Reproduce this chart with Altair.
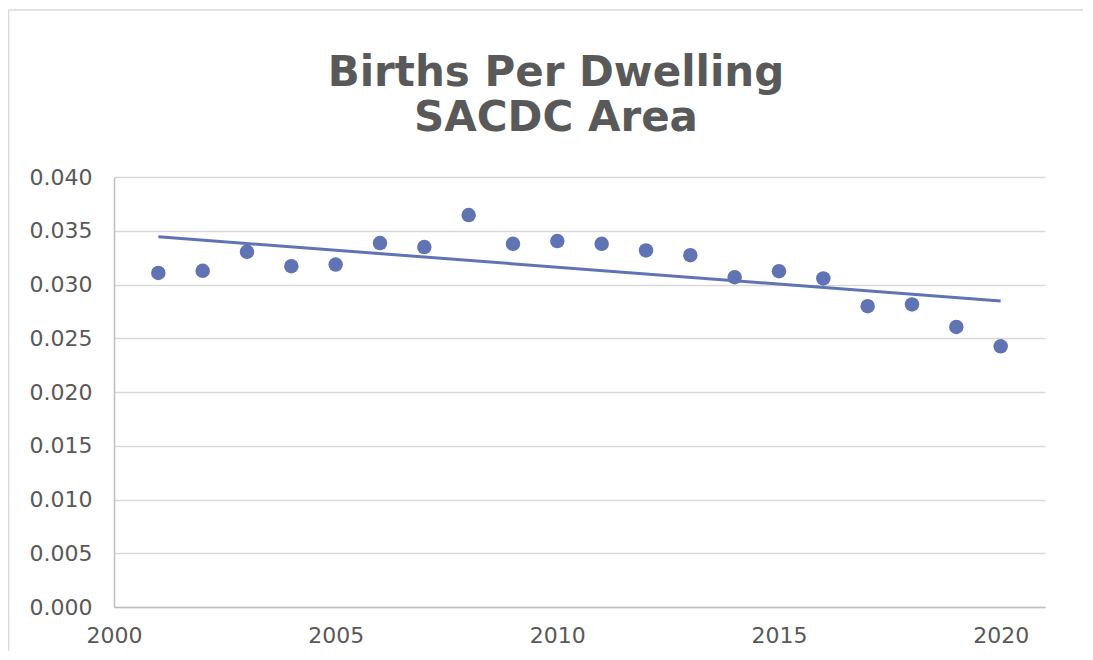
import altair as alt
import pandas as pd

years = list(range(2001, 2021))
births_per_dwelling = [0.03108, 0.03127, 0.03304, 0.03170, 0.03186, 0.03385, 0.03348,
                       0.03646, 0.03378, 0.03404, 0.03378, 0.03317, 0.03273, 0.03068,
                       0.03124, 0.03056, 0.02798, 0.02814, 0.02605, 0.02425]
y_ticks = [0.000, 0.005, 0.010, 0.015, 0.020, 0.025, 0.030, 0.035, 0.040]
x_ticks = [2000, 2005, 2010, 2015, 2020]
title_lines = ["Births Per Dwelling", "SACDC Area"]

df = pd.DataFrame({"year": years, "value": births_per_dwelling})
one = pd.DataFrame({"k": [0]})

BLUE = "#6074b4"
TXT = "#595959"

x_enc = alt.X("year:Q", scale=alt.Scale(domain=[2000, 2021], nice=False, zero=False),
              axis=alt.Axis(values=x_ticks, format="d", title=None, grid=False, ticks=False,
                            labelPadding=18, labelFontSize=22, labelColor=TXT, labelFlush=False,
                            labelFont="DejaVu Sans", domainColor="#bfbfbf", domainWidth=1.5))
y_enc = alt.Y("value:Q", scale=alt.Scale(domain=[0, 0.04], nice=False),
              axis=alt.Axis(values=y_ticks, format=".3f", title=None, ticks=False,
                            labelPadding=22, labelFontSize=22, labelColor=TXT,
                            labelFont="DejaVu Sans", gridColor="#d9d9d9", gridWidth=1.4,
                            domainColor="#bfbfbf", domainWidth=1.5))

points = alt.Chart(df).mark_circle(size=210, color=BLUE, opacity=1).encode(x=x_enc, y=y_enc)

trend = alt.Chart(df).transform_regression("year", "value").mark_line(
    color=BLUE, strokeWidth=3).encode(x="year:Q", y="value:Q")

border_top = alt.Chart(one).mark_rule(color="#d9d9d9", strokeWidth=1.5).encode(
    x=alt.value(-105.5), x2=alt.value(1100), y=alt.value(-167))
border_left = alt.Chart(one).mark_rule(color="#d9d9d9", strokeWidth=1.5).encode(
    x=alt.value(-105.5), y=alt.value(-167), y2=alt.value(600))

title_style = dict(font="DejaVu Sans", fontSize=42, fontWeight="bold", color=TXT,
                   align="center", baseline="alphabetic")
title1 = alt.Chart(one).mark_text(**title_style).encode(
    x=alt.value(442), y=alt.value(-91), text=alt.value(title_lines[0]))
title2 = alt.Chart(one).mark_text(**title_style).encode(
    x=alt.value(442), y=alt.value(-46), text=alt.value(title_lines[1]))

chart = alt.layer(border_top, border_left, trend, points, title1, title2).properties(
    width=931, height=430,
    padding={"left": 106, "top": 169, "right": 38, "bottom": 44},
    autosize=alt.AutoSizeParams(type="none"),
).configure_view(stroke=None)

chart.save("out.html", embed_options={"renderer": "svg", "actions": False})
